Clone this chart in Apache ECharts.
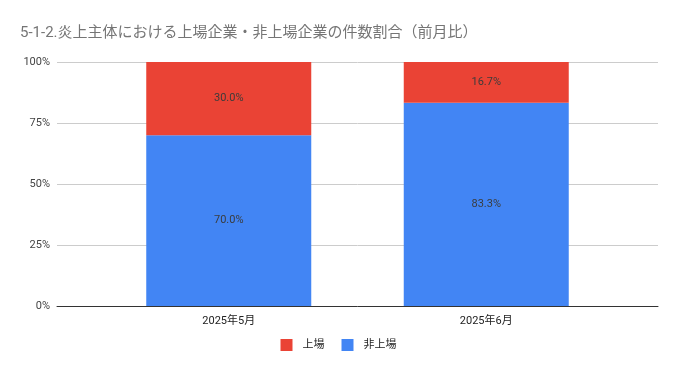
<!DOCTYPE html>
<html>
<head>
<meta charset="utf-8">
<script src="https://cdn.jsdelivr.net/npm/echarts@6/dist/echarts.min.js"></script>
<style>html,body{margin:0;padding:0;background:#fff}#c{width:677px;height:371px}</style>
</head>
<body>
<div id="c"></div>
<script>
const categories = ['2025年5月', '2025年6月'];
const listed = [30.0, 16.7];      // 上場
const unlisted = [70.0, 83.3];    // 非上場
const yTicks = [0, 25, 50, 75, 100];

const font = 'Roboto, "Noto Sans CJK JP", sans-serif';
const chart = echarts.init(document.getElementById('c'));
chart.setOption({
  animation: false,
  textStyle: { fontFamily: font },
  title: {
    text: '5-1-2.炎上主体における上場企業・非上場企業の件数割合（前月比）',
    left: 15, top: 21,
    textStyle: { fontSize: 15, fontWeight: 'normal', color: '#757575', fontFamily: font }
  },
  legend: {
    bottom: 15, left: 'center',
    itemWidth: 12, itemHeight: 12, itemGap: 17,
    icon: 'rect',
    textStyle: { fontSize: 11, color: '#222', fontFamily: font, padding: [0, 0, 0, 5] },
    data: ['上場', '非上場']
  },
  grid: [
    { left: 57, right: 19, top: 62, bottom: 65 },
    { left: 100, right: 62, top: 62, bottom: 65 }
  ],
  xAxis: [
    { gridIndex: 0, type: 'value', min: 0, max: 1, axisLine: { show: true, lineStyle: { color: '#333', width: 1 } },
      axisTick: { show: false }, axisLabel: { show: false }, splitLine: { show: false } },
    { gridIndex: 1, type: 'category', data: categories, axisLine: { show: false }, axisTick: { show: false },
      axisLabel: { fontSize: 11, color: '#222', margin: 10, fontFamily: font } }
  ],
  yAxis: [
    { gridIndex: 0, type: 'value', min: yTicks[0], max: yTicks[yTicks.length - 1], interval: 25,
      axisLabel: { formatter: v => v + '%', fontSize: 11, color: '#444', margin: 7, fontFamily: font },
      axisLine: { show: false }, axisTick: { show: false },
      splitLine: { lineStyle: { color: '#cccccc', width: 1 } } },
    { gridIndex: 1, type: 'value', min: 0, max: 100, show: false, splitLine: { show: false } }
  ],
  series: [
    { name: '非上場', type: 'bar', stack: 's', xAxisIndex: 1, yAxisIndex: 1, data: unlisted, barWidth: 165,
      itemStyle: { color: '#4285F4' },
      label: { show: true, position: 'inside', formatter: p => p.value.toFixed(1) + '%', color: '#3c3c3c', fontSize: 11, fontFamily: font } },
    { name: '上場', type: 'bar', stack: 's', xAxisIndex: 1, yAxisIndex: 1, data: listed, barWidth: 165,
      itemStyle: { color: '#EA4335' },
      label: { show: true, position: 'inside', formatter: p => p.value.toFixed(1) + '%', color: '#3c3c3c', fontSize: 11, fontFamily: font } }
  ]
});
</script>
</body>
</html>
